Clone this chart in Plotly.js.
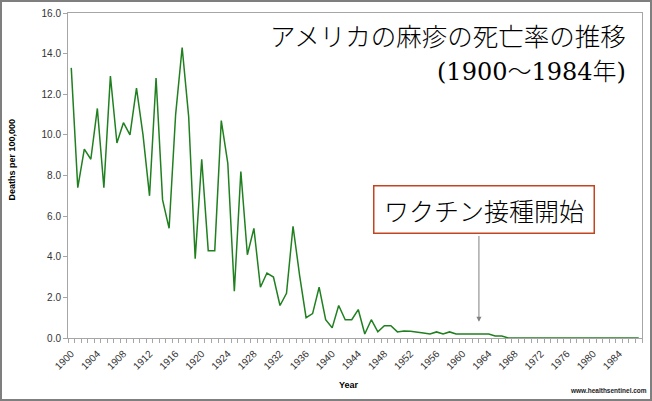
<!DOCTYPE html>
<html>
<head>
<meta charset="utf-8">
<script src="https://cdn.plot.ly/plotly-3.0.1.min.js"></script>
<style>
  html, body { margin: 0; padding: 0; background: #fff; }
  #wrap { position: relative; width: 652px; height: 401px; }
  #chart { width: 652px; height: 401px; }
  #wrap::after { content: ""; position: absolute; left: 0; top: 0; width: 652px; height: 401px;
    box-sizing: border-box; border: 2px solid #7f7f7f; pointer-events: none; }
</style>
</head>
<body>
<div id="wrap"><div id="chart"></div></div>
<script>
const years = [1900,1901,1902,1903,1904,1905,1906,1907,1908,1909,
  1910,1911,1912,1913,1914,1915,1916,1917,1918,1919,
  1920,1921,1922,1923,1924,1925,1926,1927,1928,1929,
  1930,1931,1932,1933,1934,1935,1936,1937,1938,1939,
  1940,1941,1942,1943,1944,1945,1946,1947,1948,1949,
  1950,1951,1952,1953,1954,1955,1956,1957,1958,1959,
  1960,1961,1962,1963,1964,1965,1966,1967,1968,1969,
  1970,1971,1972,1973,1974,1975,1976,1977,1978,1979,
  1980,1981,1982,1983,1984,1985,1986,1987];
const deathRate = [13.3,7.4,9.3,8.8,11.3,7.4,12.9,9.6,10.6,10.0,
  12.3,10.0,7.0,12.8,6.8,5.4,11.0,14.3,10.9,3.9,
  8.8,4.3,4.3,10.7,8.6,2.3,8.2,4.1,5.4,2.5,
  3.2,3.0,1.6,2.2,5.5,3.1,1.0,1.2,2.5,0.9,
  0.5,1.6,0.9,0.9,1.4,0.2,0.9,0.3,0.6,0.6,
  0.3,0.35,0.33,0.3,0.25,0.2,0.3,0.2,0.3,0.2,
  0.2,0.2,0.2,0.2,0.2,0.1,0.1,0.0,0,0,
  0,0,0,0,0,0,0,0,0,0,
  0,0,0,0,0,0,0,0];
const tickYears = [1900,1904,1908,1912,1916,1920,1924,1928,1932,1936,1940,
  1944,1948,1952,1956,1960,1964,1968,1972,1976,1980,1984];
const tickLabels = ["1900","1904","1908","1912","1916","1920","1924","1928","1932","1936","1940",
  "1944","1948","1952","1956","1960","1964","1968","1972","1976","1980","1984"];
const yTicks = [0,2,4,6,8,10,12,14,16];
const yTickLabels = ["0.0","2.0","4.0","6.0","8.0","10.0","12.0","14.0","16.0"];
const titleLine1 = "アメリカの麻疹の死亡率の推移";
const titleLine2 = "(1900〜1984年)";
const vaccineLabel = "ワクチン接種開始";
const yTitle = "Deaths per 100,000";
const xTitle = "Year";
const source = "www.healthsentinel.com";

const trace = {
  x: years, y: deathRate, type: "scatter", mode: "lines",
  line: { color: "#208020", width: 1.5 }, hoverinfo: "x+y"
};

const jpFont = "Noto Sans CJK JP, sans-serif";
const jpFont2 = "DejaVu Serif, Liberation Serif, Noto Sans CJK JP, serif";

const layout = {
  width: 652, height: 401,
  margin: { l: 68, r: 10, t: 13, b: 63 },
  paper_bgcolor: "#ffffff", plot_bgcolor: "#ffffff",
  showlegend: false,
  font: { family: "Liberation Sans, Arial, sans-serif", size: 10, color: "#333333" },
  xaxis: {
    range: [1899.5, 1987.5], tickmode: "array", tickvals: tickYears, ticktext: tickLabels,
    tickangle: -45, ticks: "", showgrid: false, zeroline: false,
    showline: true, linecolor: "#a6a6a6", linewidth: 1, mirror: true,
    ticklabelstandoff: 5,
    tickfont: { size: 10, color: "#333333" },
    minor: { tickmode: "linear", tick0: 1899.5, dtick: 1, ticks: "outside", ticklen: 4,
             tickcolor: "#a6a6a6", tickwidth: 1, showgrid: false }
  },
  yaxis: {
    range: [0, 16], tickmode: "array", tickvals: yTicks, ticktext: yTickLabels,
    ticks: "outside", ticklen: 4, tickcolor: "#a6a6a6", showgrid: false, zeroline: false,
    showline: true, linecolor: "#a6a6a6", linewidth: 1, mirror: true,
    tickfont: { size: 10, color: "#333333" }
  },
  annotations: [
    { xref: "paper", yref: "paper", x: -0.097, xanchor: "center", y: 0.55, yanchor: "middle",
      text: yTitle, textangle: -90,
      showarrow: false, font: { size: 9, color: "#000", weight: "bold" } },
    { xref: "paper", yref: "paper", x: 0.489, xanchor: "center", y: -0.145, yanchor: "middle",
      text: xTitle, showarrow: false,
      font: { size: 9, color: "#000", weight: "bold" } },
    { xref: "paper", yref: "paper", x: 1.012, xanchor: "right", y: -0.16, yanchor: "middle",
      text: source, showarrow: false, font: { size: 6.5, color: "#222", weight: "bold" } },
    { xref: "paper", yref: "paper", x: 0.975, xanchor: "right", y: 0.935, yanchor: "middle",
      text: titleLine1, showarrow: false,
      font: { family: jpFont, size: 25.5, color: "#000", weight: 300 } },
    { xref: "paper", yref: "paper", x: 0.975, xanchor: "right", y: 0.82, yanchor: "middle",
      text: titleLine2, showarrow: false,
      font: { family: jpFont2, size: 24, color: "#000", weight: 300 } },
    { xref: "paper", yref: "paper", x: 0.7256, xanchor: "center", y: 0.3954, yanchor: "middle",
      text: vaccineLabel, showarrow: false,
      width: 219, height: 46, borderpad: 0, bordercolor: "#c3441e", borderwidth: 1.5,
      bgcolor: "#ffffff", font: { family: jpFont, size: 25, color: "#000", weight: 300 } },
    { x: 1962.5, y: 0.8, ax: 1962.5, ay: 5.1, axref: "x", ayref: "y", text: "",
      showarrow: true, arrowhead: 2, arrowsize: 1, arrowwidth: 1, arrowcolor: "#808080" }
  ]
};

Plotly.newPlot("chart", [trace], layout, { displayModeBar: false, staticPlot: true });
</script>
</body>
</html>
